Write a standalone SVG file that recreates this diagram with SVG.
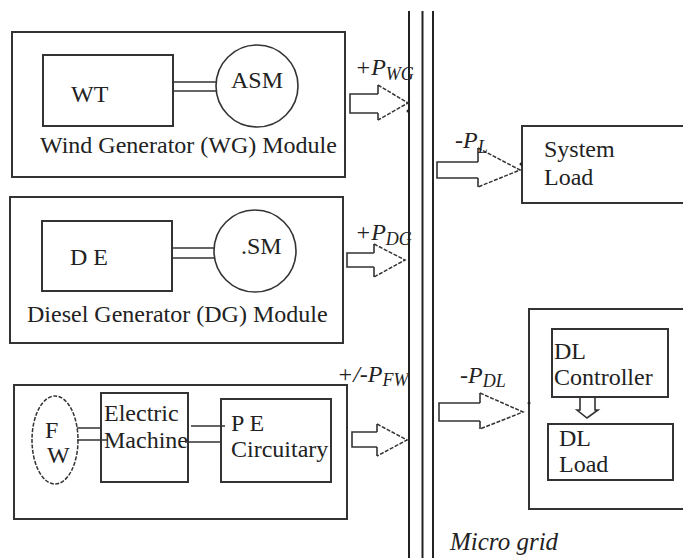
<svg xmlns="http://www.w3.org/2000/svg" width="683" height="558" viewBox="0 0 683 558">
<style>
  .box { fill: none; stroke: #333; stroke-width: 2; }
  .thin { fill: none; stroke: #333; stroke-width: 1.6; }
  .dash { fill: none; stroke: #333; stroke-width: 1.5; stroke-dasharray: 4 1.5; }
  .t { font-family: "Liberation Serif", "Times New Roman", serif; font-size: 24px; fill: #222; }
  .it { font-family: "Liberation Serif", "Times New Roman", serif; font-size: 24px; font-style: italic; fill: #222; }
  .sub { font-size: 18px; }
  .bus { stroke: #222; stroke-width: 2; }
  .dot { fill: #222; }
</style>
<rect width="683" height="558" fill="#fff"/>

<g id="bus">
  <line class="bus" x1="409" y1="11" x2="409" y2="558"/>
  <line class="bus" x1="422.5" y1="11" x2="422.5" y2="558"/>
  <line class="bus" x1="433" y1="11" x2="433" y2="558"/>
</g>

<g id="wg-module">
  <rect class="box" x="12" y="32" width="333" height="145"/>
  <text class="t" x="40" y="153">Wind Generator (WG) Module</text>
</g>
<g id="wt">
  <rect class="box" x="43" y="55" width="130" height="71"/>
  <text class="t" x="71" y="102">WT</text>
</g>
<g id="asm">
  <circle class="thin" cx="257" cy="86" r="41"/>
  <text class="t" x="231" y="88">ASM</text>
</g>

<g id="dg-module">
  <rect class="box" x="10" y="197" width="333" height="146"/>
  <text class="t" x="27" y="322">Diesel Generator (DG) Module</text>
</g>
<g id="de">
  <rect class="box" x="42" y="221" width="130" height="70"/>
  <text class="t" x="70" y="265">D E</text>
</g>
<g id="sm">
  <circle class="thin" cx="255" cy="251" r="41"/>
  <text class="t" x="241" y="254">.SM</text>
</g>

<g id="fw-module">
  <rect class="box" x="14" y="385" width="333" height="134"/>
</g>
<g id="fw">
  <ellipse class="dash" cx="55" cy="440" rx="23" ry="44"/>
  <text class="t" x="45" y="438">F</text>
  <text class="t" x="47" y="463">W</text>
</g>
<g id="electric-machine">
  <rect class="box" x="101" y="393" width="87" height="89"/>
  <text class="t" x="104" y="421">Electric</text>
  <text class="t" x="104" y="448">Machine</text>
</g>
<g id="pe-circuitary">
  <rect class="box" x="221" y="399" width="110" height="83"/>
  <text class="t" x="231" y="431">P E</text>
  <text class="t" x="231" y="457">Circuitary</text>
</g>

<g id="system-load">
  <rect class="box" x="522" y="126" width="170" height="77"/>
  <text class="t" x="544" y="157">System</text>
  <text class="t" x="544" y="185">Load</text>
</g>

<g id="dl-module">
  <rect class="box" x="529" y="309" width="170" height="200"/>
</g>
<g id="dl-controller">
  <rect class="box" x="552" y="329" width="116" height="68"/>
  <text class="t" x="554" y="359">DL</text>
  <text class="t" x="554" y="385">Controller</text>
</g>
<g id="dl-load">
  <rect class="box" x="548" y="424" width="125" height="56"/>
  <text class="t" x="559" y="446">DL</text>
  <text class="t" x="559" y="472">Load</text>
</g>

<g id="connectors">
  <!-- shafts -->
  <path class="thin" d="M173,82 H217 M173,91 H217"/>
  <path class="thin" d="M172,248 H214 M172,258 H214"/>
  <path class="thin" d="M77,428 H101 M77,440 H108"/>
  <path class="thin" d="M191,426 H225 M185,442 H221"/>

  <!-- WG arrow -->
  <path class="thin" d="M378,94 H350 V113 H378 M378,94 V85 M378,113 V120"/>
  <path class="dash" d="M378,85 L408,103 L378,120"/>
  <circle class="dot" cx="408" cy="111" r="1.5"/>
  <!-- DG arrow -->
  <path class="thin" d="M374,253 H347 V267 H374 M374,253 V244 M374,267 V277"/>
  <path class="dash" d="M374,244 L405,260 L374,277"/>
  <!-- FW arrow -->
  <path class="thin" d="M377,432 H352 V447 H377 M377,432 V424 M377,447 V456"/>
  <path class="dash" d="M377,424 L407,440 L377,456"/>
  <!-- PL arrow -->
  <path class="thin" d="M478,162 H437 V178 H478 M478,162 V148 M478,178 V187"/>
  <path class="dash" d="M478,148 L520,170 L478,187"/>
  <circle class="dot" cx="521" cy="164" r="1.5"/>
  <!-- PDL arrow -->
  <path class="thin" d="M480,403 H439 V421 H480 M480,403 V393 M480,421 V429"/>
  <path class="dash" d="M480,393 L523,412 L480,429"/>
  <circle class="dot" cx="529" cy="403" r="1.5"/>
  <!-- DL controller to load -->
  <path class="thin" d="M580,397 V410 H577 L587,418 L598,410 H595 V397"/>
</g>

<g id="labels">
  <text class="it" x="355" y="75">+P<tspan class="sub" dy="5">WG</tspan></text>
  <text class="it" x="355" y="240">+P<tspan class="sub" dy="5">DG</tspan></text>
  <text class="it" x="337" y="382">+/-P<tspan class="sub" dy="4">FW</tspan></text>
  <text class="it" x="455" y="148">-P<tspan class="sub" dy="5">L</tspan></text>
  <text class="it" x="460" y="383">-P<tspan class="sub" dy="4">DL</tspan></text>
  <text class="it" x="450" y="550" style="font-size:25px">Micro grid</text>
</g>
</svg>
